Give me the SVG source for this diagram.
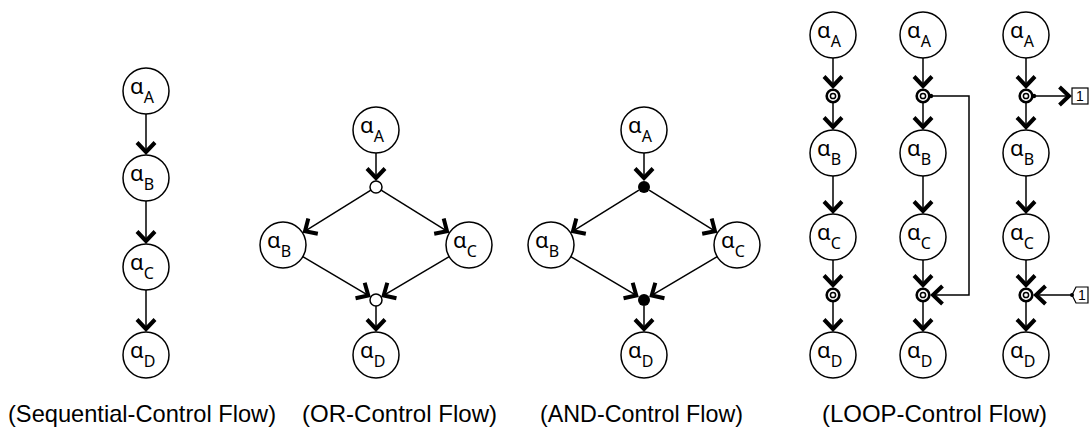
<svg xmlns="http://www.w3.org/2000/svg" width="1089" height="429" viewBox="0 0 1089 429">
<style>
.n{fill:#fff;stroke:#000;stroke-width:1.5}
.a{font-family:"Noto Sans","DejaVu Sans",sans-serif;font-size:22px;fill:#000}
.s{font-size:16px}
.e{fill:none;stroke:#000;stroke-width:1.5;marker-end:url(#ah)}
.r{fill:#fff;stroke:#000;stroke-width:2.6}
.ri{fill:#fff;stroke:#000;stroke-width:1.5}
.cap{font-family:"Liberation Sans",Arial,sans-serif;font-size:24px;fill:#000}
.bx{font-family:"Liberation Sans",Arial,sans-serif;font-size:14px;fill:#000;text-anchor:middle}
</style>
<defs>
<marker id="ah" markerUnits="userSpaceOnUse" markerWidth="30" markerHeight="30" viewBox="-15 -15 30 30" refX="0" refY="0" orient="auto" overflow="visible">
<path d="M-9.5,-9 L0,0 L-9.5,9" fill="none" stroke="#000" stroke-width="4" stroke-linejoin="miter"/>
</marker>
</defs>

<g id="connectors">
<line class="e" x1="146" y1="114" x2="146" y2="152"/>
<line class="e" x1="146" y1="201" x2="146" y2="241"/>
<line class="e" x1="146" y1="290" x2="146" y2="329"/>
<line class="e" x1="376" y1="153" x2="376" y2="178"/>
<line class="e" x1="370.9" y1="190.2" x2="305" y2="231.2"/>
<line class="e" x1="381.1" y1="190.2" x2="447" y2="231.2"/>
<line class="e" x1="302.8" y1="256.7" x2="368.3" y2="295.4"/>
<line class="e" x1="449.2" y1="256.7" x2="383.7" y2="295.4"/>
<line class="e" x1="376" y1="306" x2="376" y2="329"/>
<line class="e" x1="644" y1="153" x2="644" y2="178"/>
<line class="e" x1="638.9" y1="190.2" x2="573" y2="231.2"/>
<line class="e" x1="649.1" y1="190.2" x2="715" y2="231.2"/>
<line class="e" x1="570.8" y1="256.7" x2="636.3" y2="295.4"/>
<line class="e" x1="717.2" y1="256.7" x2="651.7" y2="295.4"/>
<line class="e" x1="644" y1="306" x2="644" y2="329"/>
<line class="e" x1="833" y1="58" x2="833" y2="86"/>
<line class="e" x1="833" y1="103" x2="833" y2="127"/>
<line class="e" x1="833" y1="176" x2="833" y2="211"/>
<line class="e" x1="833" y1="260" x2="833" y2="285"/>
<line class="e" x1="833" y1="302" x2="833" y2="329"/>
<line class="e" x1="923" y1="58" x2="923" y2="86"/>
<line class="e" x1="923" y1="103" x2="923" y2="127"/>
<line class="e" x1="923" y1="176" x2="923" y2="211"/>
<line class="e" x1="923" y1="260" x2="923" y2="285"/>
<line class="e" x1="923" y1="302" x2="923" y2="329"/>
<polyline class="e" points="931,96 969,96 969,295 933,295"/>
<line class="e" x1="1026" y1="58" x2="1026" y2="86"/>
<line class="e" x1="1026" y1="103" x2="1026" y2="127"/>
<line class="e" x1="1026" y1="176" x2="1026" y2="211"/>
<line class="e" x1="1026" y1="260" x2="1026" y2="285"/>
<line class="e" x1="1026" y1="302" x2="1026" y2="329"/>
<line class="e" x1="1034" y1="96" x2="1069" y2="96"/>
<line class="e" x1="1072" y1="295" x2="1036" y2="295"/>
</g>

<g id="seq">
<g id="seq-A"><circle class="n" cx="146" cy="91" r="23"/><text class="a" x="130" y="94">α<tspan class="s" dy="9">A</tspan></text></g>
<g id="seq-B"><circle class="n" cx="146" cy="178" r="23"/><text class="a" x="130" y="181">α<tspan class="s" dy="9">B</tspan></text></g>
<g id="seq-C"><circle class="n" cx="146" cy="267" r="23"/><text class="a" x="130" y="270">α<tspan class="s" dy="9">C</tspan></text></g>
<g id="seq-D"><circle class="n" cx="146" cy="355" r="23"/><text class="a" x="130" y="358">α<tspan class="s" dy="9">D</tspan></text></g>
</g>

<g id="or">
<g id="or-A"><circle class="n" cx="376" cy="130" r="23"/><text class="a" x="360" y="133">α<tspan class="s" dy="9">A</tspan></text></g>
<g id="or-s1"><circle class="n" cx="376" cy="187" r="6"/></g>
<g id="or-B"><circle class="n" cx="283" cy="245" r="23"/><text class="a" x="267" y="248">α<tspan class="s" dy="9">B</tspan></text></g>
<g id="or-C"><circle class="n" cx="469" cy="245" r="23"/><text class="a" x="453" y="248">α<tspan class="s" dy="9">C</tspan></text></g>
<g id="or-s2"><circle class="n" cx="376" cy="300" r="6"/></g>
<g id="or-D"><circle class="n" cx="376" cy="355" r="23"/><text class="a" x="360" y="358">α<tspan class="s" dy="9">D</tspan></text></g>
</g>

<g id="and">
<g id="and-A"><circle class="n" cx="644" cy="130" r="23"/><text class="a" x="628" y="133">α<tspan class="s" dy="9">A</tspan></text></g>
<g id="and-s1"><circle cx="644" cy="187" r="6" fill="#000"/></g>
<g id="and-B"><circle class="n" cx="551" cy="245" r="23"/><text class="a" x="535" y="248">α<tspan class="s" dy="9">B</tspan></text></g>
<g id="and-C"><circle class="n" cx="737" cy="245" r="23"/><text class="a" x="721" y="248">α<tspan class="s" dy="9">C</tspan></text></g>
<g id="and-s2"><circle cx="644" cy="300" r="6" fill="#000"/></g>
<g id="and-D"><circle class="n" cx="644" cy="355" r="23"/><text class="a" x="628" y="358">α<tspan class="s" dy="9">D</tspan></text></g>
</g>

<g id="loop1">
<g id="l1-A"><circle class="n" cx="833" cy="35" r="23"/><text class="a" x="817" y="38">α<tspan class="s" dy="9">A</tspan></text></g>
<g id="l1-r1"><circle class="r" cx="833" cy="96" r="6.3"/><circle class="ri" cx="833" cy="96" r="2.6"/></g>
<g id="l1-B"><circle class="n" cx="833" cy="153" r="23"/><text class="a" x="817" y="156">α<tspan class="s" dy="9">B</tspan></text></g>
<g id="l1-C"><circle class="n" cx="833" cy="237" r="23"/><text class="a" x="817" y="240">α<tspan class="s" dy="9">C</tspan></text></g>
<g id="l1-r2"><circle class="r" cx="833" cy="295" r="6.3"/><circle class="ri" cx="833" cy="295" r="2.6"/></g>
<g id="l1-D"><circle class="n" cx="833" cy="355" r="23"/><text class="a" x="817" y="358">α<tspan class="s" dy="9">D</tspan></text></g>
</g>

<g id="loop2">
<g id="l2-A"><circle class="n" cx="923" cy="35" r="23"/><text class="a" x="907" y="38">α<tspan class="s" dy="9">A</tspan></text></g>
<g id="l2-r1"><circle class="r" cx="923" cy="96" r="6.3"/><circle class="ri" cx="923" cy="96" r="2.6"/><circle cx="931" cy="96" r="2.2" fill="#000"/></g>
<g id="l2-B"><circle class="n" cx="923" cy="153" r="23"/><text class="a" x="907" y="156">α<tspan class="s" dy="9">B</tspan></text></g>
<g id="l2-C"><circle class="n" cx="923" cy="237" r="23"/><text class="a" x="907" y="240">α<tspan class="s" dy="9">C</tspan></text></g>
<g id="l2-r2"><circle class="r" cx="923" cy="295" r="6.3"/><circle class="ri" cx="923" cy="295" r="2.6"/></g>
<g id="l2-D"><circle class="n" cx="923" cy="355" r="23"/><text class="a" x="907" y="358">α<tspan class="s" dy="9">D</tspan></text></g>
</g>

<g id="loop3">
<g id="l3-A"><circle class="n" cx="1026" cy="35" r="23"/><text class="a" x="1010" y="38">α<tspan class="s" dy="9">A</tspan></text></g>
<g id="l3-r1"><circle class="r" cx="1026" cy="96" r="6.3"/><circle class="ri" cx="1026" cy="96" r="2.6"/><circle cx="1034" cy="96" r="2.2" fill="#000"/></g>
<g id="l3-B"><circle class="n" cx="1026" cy="153" r="23"/><text class="a" x="1010" y="156">α<tspan class="s" dy="9">B</tspan></text></g>
<g id="l3-C"><circle class="n" cx="1026" cy="237" r="23"/><text class="a" x="1010" y="240">α<tspan class="s" dy="9">C</tspan></text></g>
<g id="l3-r2"><circle class="r" cx="1026" cy="295" r="6.3"/><circle class="ri" cx="1026" cy="295" r="2.6"/></g>
<g id="l3-D"><circle class="n" cx="1026" cy="355" r="23"/><text class="a" x="1010" y="358">α<tspan class="s" dy="9">D</tspan></text></g>
<g id="l3-out"><rect x="1072" y="88" width="16" height="16" fill="#fff" stroke="#000" stroke-width="1.2"/><text class="bx" x="1080" y="101">1</text></g>
<g id="l3-in"><polygon points="1072,295 1076,287 1088,287 1088,303 1076,303" fill="#fff" stroke="#000" stroke-width="1.2"/><circle cx="1072" cy="295" r="2" fill="#000"/><text class="bx" x="1082" y="300">1</text></g>
</g>

<g id="captions">
<text class="cap" x="8" y="422" textLength="268" lengthAdjust="spacingAndGlyphs">(Sequential-Control Flow)</text>
<text class="cap" x="302" y="422" textLength="195" lengthAdjust="spacingAndGlyphs">(OR-Control Flow)</text>
<text class="cap" x="540" y="422" textLength="203" lengthAdjust="spacingAndGlyphs">(AND-Control Flow)</text>
<text class="cap" x="822" y="422" textLength="225" lengthAdjust="spacingAndGlyphs">(LOOP-Control Flow)</text>
</g>
</svg>
